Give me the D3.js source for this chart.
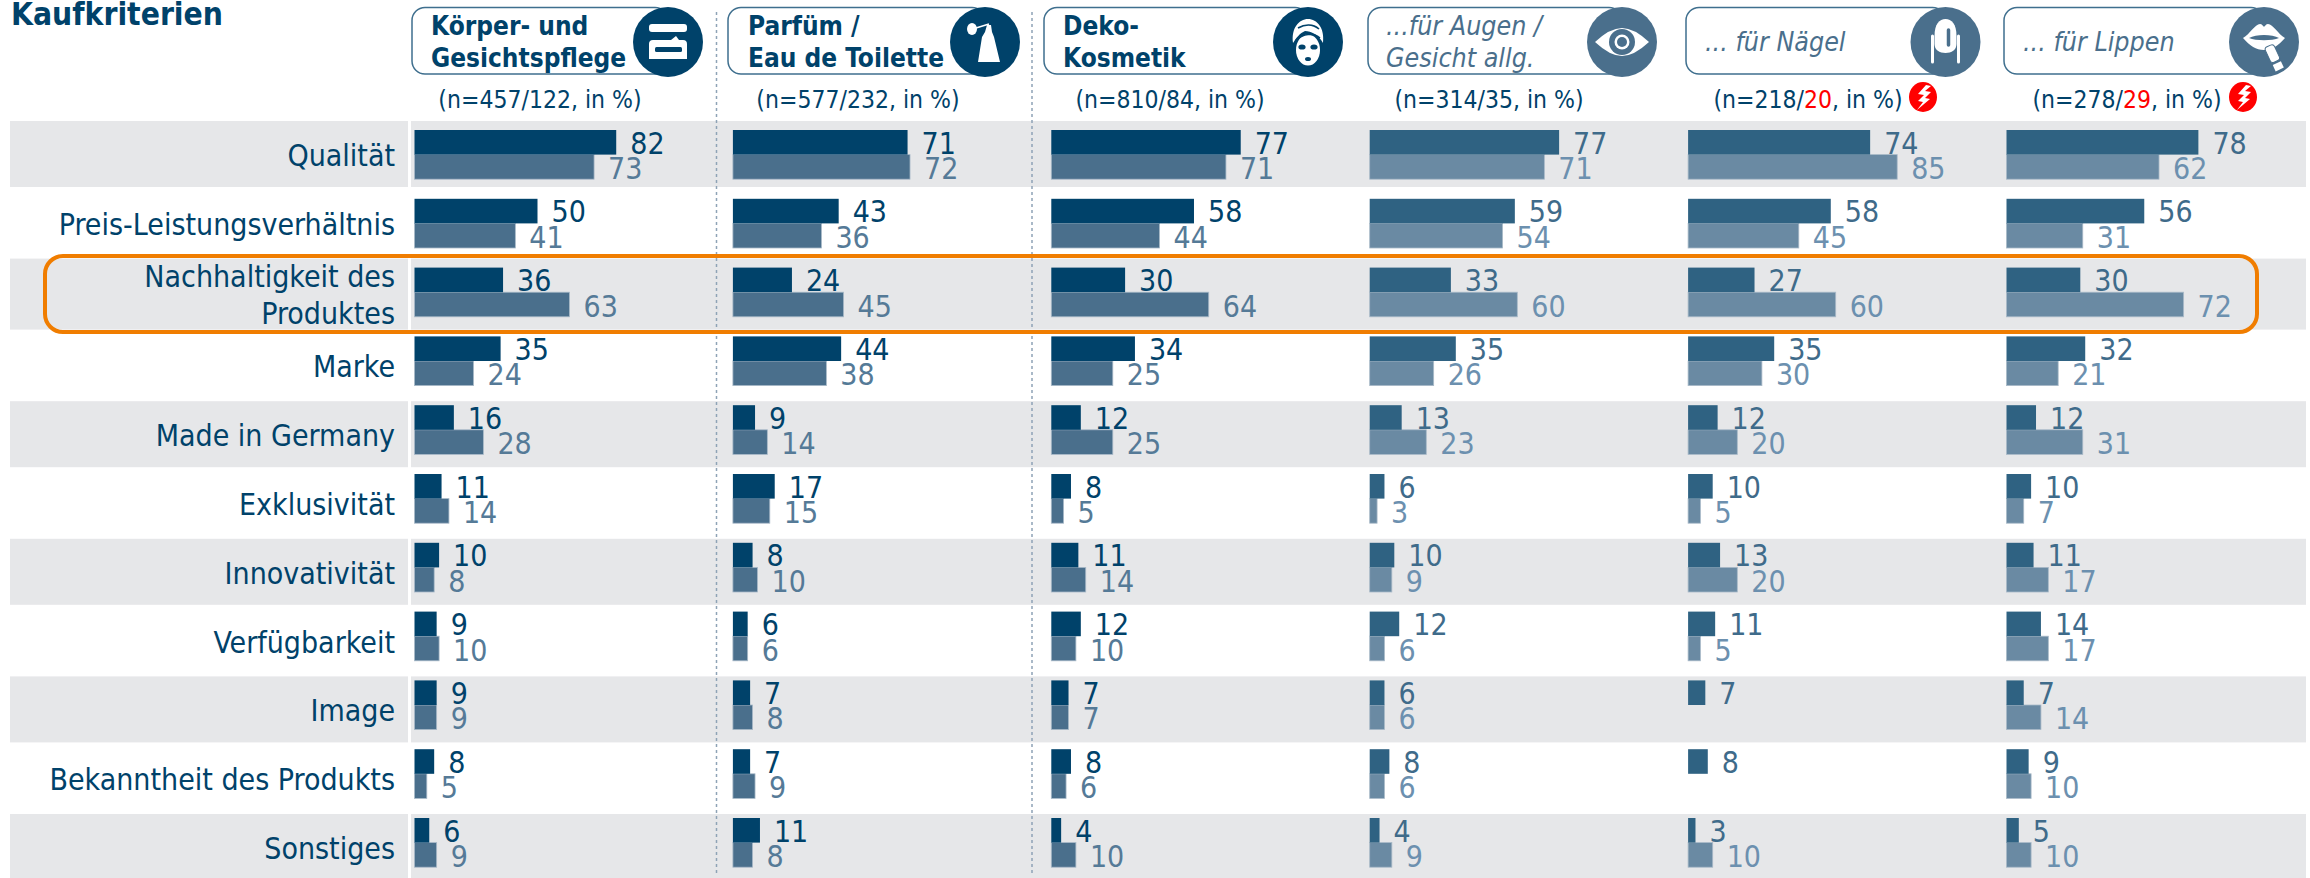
<!DOCTYPE html>
<html><head><meta charset="utf-8">
<script src="https://cdnjs.cloudflare.com/ajax/libs/d3/7.8.5/d3.min.js"></script>
<style>
html,body{margin:0;padding:0;background:#fff}
svg{display:block}
text{font-family:"DejaVu Sans Condensed","DejaVu Sans";font-stretch:condensed}
</style></head><body>
<script>
const title = "Kaufkriterien";
const criteria = ["Qualität","Preis-Leistungsverhältnis","Nachhaltigkeit des|Produktes","Marke","Made in Germany","Exklusivität","Innovativität","Verfügbarkeit","Image","Bekanntheit des Produkts","Sonstiges"];
const segments = ["Körper- und|Gesichtspflege","Parfüm /|Eau de Toilette","Deko-|Kosmetik","...für Augen /|Gesicht allg.","... für Nägel","... für Lippen"];
const sampleA = [457,577,810,314,218,278];
const sampleB = [122,232,84,35,20,29];
const lowBase = [false,false,false,false,true,true];
const seriesA = [
 [82,71,77,77,74,78],[50,43,58,59,58,56],[36,24,30,33,27,30],[35,44,34,35,35,32],
 [16,9,12,13,12,12],[11,17,8,6,10,10],[10,8,11,10,13,11],[9,6,12,12,11,14],
 [9,7,7,6,7,7],[8,7,8,8,8,9],[6,11,4,4,3,5]];
const seriesB = [
 [73,72,71,71,85,62],[41,36,44,54,45,31],[63,45,64,60,60,72],[24,38,25,26,30,21],
 [28,14,25,23,20,31],[14,15,5,3,5,7],[8,10,14,9,20,17],[10,6,10,6,5,17],
 [9,8,7,6,null,14],[5,9,6,6,null,10],[9,8,10,9,10,10]];

const W=2310,H=878, NAVY="#00426a", NAVY2="#4a6f8c", MID="#2f6282", LIGHT="#6a8aa3";
const svg=d3.select("body").append("svg").attr("width",W).attr("height",H).attr("viewBox",`0 0 ${W} ${H}`);
const rowY=d3.scaleBand().domain(d3.range(criteria.length)).range([130,130+68.8*11]);
const colX=d3.scalePoint().domain(d3.range(segments.length)).range([414.5,2006.5]);
const x=d3.scaleLinear().domain([0,100]).range([0,246]);
const BH=24.6;
const bandTop=i=>rowY(i)-(i<=2?9:4), bandH=i=>i===2?71:66;

// grey bands
const gray=svg.append("g").attr("fill","#e6e7e9");
d3.range(criteria.length).filter(i=>i%2===0).forEach(i=>{
  gray.append("rect").attr("x",10).attr("y",bandTop(i)).attr("width",398).attr("height",bandH(i));
  gray.append("rect").attr("x",411).attr("y",bandTop(i)).attr("width",1895).attr("height",bandH(i));
});
// separators
[716.5,1032].forEach(v=>svg.append("line").attr("x1",v).attr("x2",v).attr("y1",12).attr("y2",873)
  .attr("stroke","#8ea3b6").attr("stroke-width",1.5).attr("stroke-dasharray","3 3"));

svg.append("text").text(title).attr("x",11).attr("y",25).attr("font-size",31.5).attr("font-weight",700).attr("fill",NAVY);

// row labels
const FS=30;
criteria.forEach((c,i)=>{
  const parts=c.split("|");
  const ys=parts.length===2?[287,324]:[rowY(i)+(i<2?36:41)];
  parts.forEach((p,k)=>svg.append("text").text(p).attr("x",395).attr("y",ys[k]).attr("text-anchor","end")
    .attr("font-size",FS).attr("fill",NAVY));
});

// bars + labels
segments.forEach((s,j)=>{
  const g=svg.append("g").attr("transform",`translate(${colX(j)},0)`);
  const cA=j<3?NAVY:MID, cB=j<3?NAVY2:LIGHT, tA=j<3?NAVY:"#3f6b8a", tB=j<3?"#557a97":"#6c90af";
  const rows=d3.range(criteria.length);
  g.selectAll("rect.b").data(rows.filter(i=>seriesB[i][j]!=null)).join("rect").attr("class","b")
    .attr("y",i=>rowY(i)+BH).attr("height",BH).attr("width",i=>x(seriesB[i][j])).attr("fill",cB)
    .attr("stroke","#a9bac8").attr("stroke-width",.8);
  g.selectAll("rect.a").data(rows).join("rect").attr("class","a").attr("y",i=>rowY(i)).attr("height",BH)
    .attr("width",i=>x(seriesA[i][j])).attr("fill",cA);
  g.selectAll("text.a").data(rows).join("text").attr("class","a").text(i=>seriesA[i][j])
    .attr("x",i=>x(seriesA[i][j])+14).attr("y",i=>rowY(i)+23.5).attr("font-size",FS).attr("fill",tA);
  g.selectAll("text.b").data(rows.filter(i=>seriesB[i][j]!=null)).join("text").attr("class","b").text(i=>seriesB[i][j])
    .attr("x",i=>x(seriesB[i][j])+14).attr("y",i=>rowY(i)+49).attr("font-size",FS).attr("fill",tB);
});

// highlight box
svg.append("rect").attr("x",45).attr("y",256).attr("width",2212).attr("height",76).attr("rx",18)
  .attr("fill","none").attr("stroke","#f07d00").attr("stroke-width",4);

// headers
const pillL=[412,728,1044,1368,1686,2004], circX=[668,985,1308,1622,1945.5,2264];
const textX=[431,748,1063,1386,1705,2023], nX=[540,858,1170,1489,1808,2127], flashX=[0,0,0,0,1923,2243];
const icons=[
 g=>{g.append("rect").attr("x",-19).attr("y",-18).attr("width",38).attr("height",8).attr("rx",3).attr("fill","#fff");
     g.append("path").attr("d","M-19,17V2Q-19,-2 -15,-2H3L8,-6L11,-2H15Q19,-2 19,2V17Z").attr("fill","#fff");
     g.append("rect").attr("x",-13).attr("y",5).attr("width",27).attr("height",5).attr("rx",1.5).attr("fill",NAVY);},
 g=>{g.append("ellipse").attr("cx",-13).attr("cy",-13).attr("rx",5).attr("ry",6).attr("fill","#fff");
     g.append("path").attr("d","M-9,-14L4,-18").attr("stroke","#fff").attr("stroke-width",1.5);
     g.append("path").attr("d","M2,-17H6L7,-10L9,-5L15,20H-7L-3,-5L0,-10Z").attr("fill","#fff");},
 g=>{g.append("path").attr("d","M-15,1C-17,-14 -9,-23 0,-23C9,-23 17,-14 15,1C11,-7 3,-11 -3,-11C-8,-9 -12,-4 -15,1Z").attr("fill","#fff");
     g.append("ellipse").attr("cy",8).attr("rx",12).attr("ry",15.5).attr("fill","#fff");
     g.append("path").attr("d","M-12,-2C-5,-8 5,-10 12,-4M-10,-14C-3,-18 5,-18 11,-13").attr("stroke",NAVY).attr("stroke-width",1.6).attr("fill","none");
     g.append("ellipse").attr("cx",-6).attr("cy",5).attr("rx",3.6).attr("ry",2.6).attr("fill",NAVY);
     g.append("ellipse").attr("cx",6).attr("cy",5).attr("rx",3.6).attr("ry",2.6).attr("fill",NAVY);
     g.append("ellipse").attr("cy",17).attr("rx",3).attr("ry",2).attr("fill",NAVY);},
 g=>{g.append("path").attr("d","M-27,0Q-12,-14 0,-14Q12,-14 27,0Q12,14 0,14Q-12,14 -27,0Z").attr("fill","#fff");
     g.append("circle").attr("r",13).attr("fill",NAVY2);
     g.append("circle").attr("r",7.5).attr("fill","#fff");
     g.append("circle").attr("r",5).attr("fill",NAVY2);},
 g=>{g.append("path").attr("d","M-11,-6C-11,-18 -6,-23 0,-23C6,-23 11,-18 11,-6V2C11,8 6,11 0,11C-6,11 -11,8 -11,2Z").attr("fill","#fff");
     g.append("path").attr("d","M3,-12V3").attr("stroke",NAVY2).attr("stroke-width",3.5).attr("stroke-linecap","round");
     g.append("path").attr("d","M-13,-6V20M13,-6V20").attr("stroke","#fff").attr("stroke-width",3).attr("stroke-linecap","round");},
 g=>{g.append("path").attr("d","M-21,-4C-14,-8 -9,-18 -4,-18C-2,-18 -1,-16 0,-15C1,-16 2,-18 4,-18C9,-18 14,-8 21,-4C14,4 8,8 0,8C-8,8 -14,4 -21,-4Z").attr("fill","#fff");
     g.append("path").attr("d","M-15,-4C-8,-8 8,-8 15,-4C8,-1 -8,-1 -15,-4Z").attr("fill",NAVY2);
     g.append("g").attr("transform","translate(9,13) rotate(-25)").call(l=>{
       l.append("rect").attr("x",-5).attr("y",-10).attr("width",10).attr("height",17).attr("rx",3).attr("fill","#fff").attr("stroke",NAVY2);
       l.append("rect").attr("x",-4.5).attr("y",9).attr("width",9).attr("height",7).attr("fill","#fff");});}
];
segments.forEach((s,j)=>{
  const dark=j<3, col=dark?NAVY:NAVY2;
  svg.append("rect").attr("x",pillL[j]).attr("y",7.5).attr("width",circX[j]-pillL[j]).attr("height",66.5).attr("rx",13)
    .attr("fill","#fff").attr("stroke","#3f6f8e").attr("stroke-width",1.5);
  const parts=s.split("|"), ys=parts.length===2?[35,67]:[51];
  parts.forEach((p,k)=>svg.append("text").text(p).attr("x",textX[j]).attr("y",ys[k]).attr("font-size",dark?26:26.6)
    .attr("font-weight",dark?700:400).attr("font-style",dark?"normal":"italic").attr("fill",col));
  svg.append("circle").attr("cx",circX[j]).attr("cy",42).attr("r",35).attr("fill",col);
  icons[j](svg.append("g").attr("transform",`translate(${circX[j]},42)`));
  const t=svg.append("text").attr("x",nX[j]).attr("y",108).attr("text-anchor","middle").attr("font-size",24.5).attr("fill",NAVY);
  t.append("tspan").text(`(n=${sampleA[j]}/`);
  t.append("tspan").text(sampleB[j]).attr("fill",lowBase[j]?"#ff0000":NAVY);
  t.append("tspan").text(", in %)");
  if(lowBase[j]){
    const f=svg.append("g").attr("transform",`translate(${flashX[j]},97)`);
    f.append("ellipse").attr("rx",14).attr("ry",15).attr("fill","#f00");
    f.append("path").attr("d","M3,-12L-5,-3L1,-2L-5,4L0,5L-6,13L7,2L2,1L8,-5L2,-6L8,-11Z").attr("fill","#fff");
  }
});
</script>
</body></html>
